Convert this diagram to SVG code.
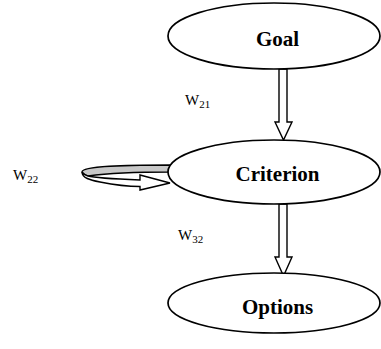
<svg xmlns="http://www.w3.org/2000/svg" width="381" height="349" viewBox="0 0 381 349">
<style>
.node{fill:#fff;stroke:#000;stroke-width:1.7}
.lbl{font-family:"Liberation Serif","Times New Roman",serif;font-weight:bold;font-size:21px;fill:#000}
.w{font-family:"Liberation Serif","Times New Roman",serif;font-size:15px;fill:#000}
.sub{font-size:11px}
.arr{fill:#fff;stroke:#000;stroke-width:1.4;stroke-linejoin:miter}
</style>
<rect width="381" height="349" fill="#fff"/>
<g id="connectors">
<path class="arr" d="M279,69 L287,69 L287,122 L292,122 L283.5,140 L275,122 L279,122 Z"/>
<path class="arr" d="M279,204 L287,204 L287,257 L292,257 L283.5,276 L275,257 L279,257 Z"/>
<g id="loop">
<path d="M170,165 C125,165 82,166 82,172 C84,174 86,176 88,176 C110,173 140,172 170,172 Z" fill="#c8c8c8" stroke="#000" stroke-width="1.4"/>
<path class="arr" d="M82,172 C82,178 90,180 100,182 C115,185 130,186.5 140,186.5 L140,190 L170,183 L140,175 L140,180 C115,179 95,178 88,176 C85,175 83,174 82,172 Z"/>
</g>
</g>
<g id="goal">
<ellipse class="node" cx="274" cy="36" rx="106" ry="33"/>
<text class="lbl" x="277.5" y="46" text-anchor="middle">Goal</text>
</g>
<g id="criterion">
<ellipse class="node" cx="274" cy="172" rx="106" ry="32"/>
<text class="lbl" x="277.5" y="181" text-anchor="middle">Criterion</text>
</g>
<g id="options">
<ellipse class="node" cx="274" cy="303" rx="106" ry="30"/>
<text class="lbl" x="277.5" y="314" text-anchor="middle">Options</text>
</g>
<g id="labels">
<text class="w" x="185" y="105">W<tspan class="sub" dy="3">21</tspan></text>
<text class="w" x="13" y="180">W<tspan class="sub" dy="3">22</tspan></text>
<text class="w" x="178" y="240">W<tspan class="sub" dy="3">32</tspan></text>
</g>
</svg>
